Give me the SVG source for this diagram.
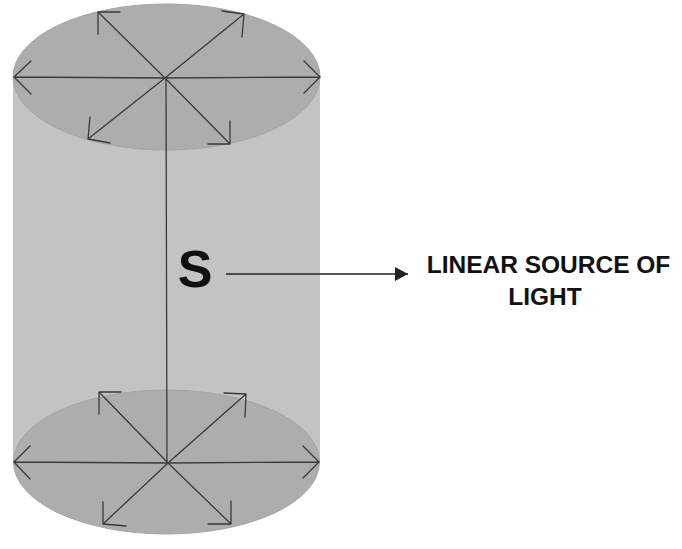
<svg xmlns="http://www.w3.org/2000/svg" width="682" height="549" viewBox="0 0 682 549">
<style>
.body{fill:#c3c3c3;}
.cap{fill:#adadad;stroke:#a4a4a4;stroke-width:1;}
.ray{stroke:#3a3a3a;stroke-width:1.3;fill:none;stroke-linecap:round;stroke-linejoin:round;}
.lbl{font-family:"Liberation Sans",Arial,sans-serif;font-weight:bold;fill:#111;}
</style>
<defs>
<marker id="tri" markerWidth="14" markerHeight="14" refX="13" refY="7" orient="auto" markerUnits="userSpaceOnUse">
<path d="M0,0 L13,7 L0,14 Z" fill="#222"/>
</marker>
</defs>
<rect width="682" height="549" fill="#fff"/>
<g id="cylinder">
<rect class="body" x="13" y="77" width="307" height="385"/>
<ellipse id="top-cap" class="cap" cx="166.5" cy="77" rx="153.5" ry="73"/>
<ellipse id="bottom-cap" class="cap" cx="166.5" cy="462" rx="153" ry="72"/>
</g>
<g id="connectors">
<line class="ray" x1="166" y1="78" x2="167" y2="463"/>
<g id="top-rays">
<path class="ray" d="M165,78 L14,77 M31,61 L14,77 L31,94"/>
<path class="ray" d="M165,78 L320,77 M304,61 L320,77 L304,93"/>
<path class="ray" d="M165,78 L98,12 M120,12 L98,12 L98,34"/>
<path class="ray" d="M165,78 L244,14 M222,11 L244,14 L242,37"/>
<path class="ray" d="M165,78 L88,139 M90,117 L88,139 L110,143"/>
<path class="ray" d="M165,78 L230,144 M230,121 L230,144 L208,144"/>
</g>
<g id="bottom-rays">
<path class="ray" d="M168,463 L14,462 M30,446 L14,462 L30,479"/>
<path class="ray" d="M168,463 L319,462 M303,446 L319,462 L303,478"/>
<path class="ray" d="M168,463 L99,392 M121,392 L99,392 L99,414"/>
<path class="ray" d="M168,463 L246,394 M224,393 L246,394 L245,417"/>
<path class="ray" d="M168,463 L103,524 M103,502 L103,524 L126,526"/>
<path class="ray" d="M168,463 L231,524 M231,501 L231,524 L208,524"/>
</g>
<line x1="226" y1="274" x2="408" y2="274" stroke="#222" stroke-width="1.3" marker-end="url(#tri)"/>
</g>
<g id="source-label">
<text class="lbl" x="195" y="287" font-size="52" text-anchor="middle">S</text>
</g>
<g id="caption">
<text class="lbl" x="548.5" y="273" font-size="24.5" text-anchor="middle">LINEAR SOURCE OF</text>
<text class="lbl" x="545" y="305" font-size="24.5" text-anchor="middle">LIGHT</text>
</g>
</svg>
